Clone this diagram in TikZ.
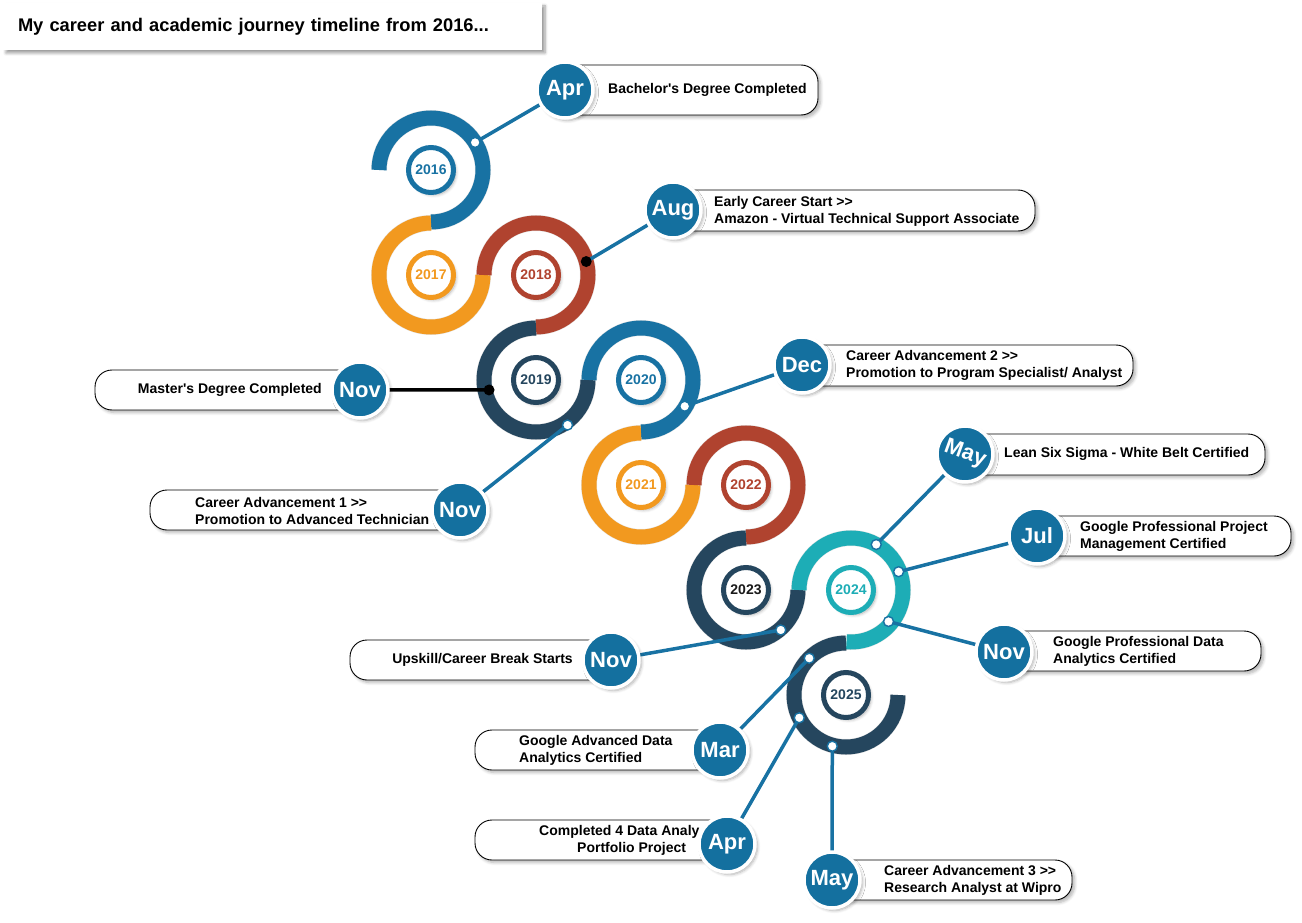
\documentclass[tikz,border=0pt]{standalone}
\usepackage{fontspec}
\setmainfont{Liberation Sans}
\usetikzlibrary{shadows.blur}

\definecolor{ringblue}{HTML}{1872A3}
\definecolor{monthblue}{HTML}{14709F}
\definecolor{ringorange}{HTML}{F2991F}
\definecolor{ringred}{HTML}{B0432F}
\definecolor{ringnavy}{HTML}{25465E}
\definecolor{ringteal}{HTML}{1DADB6}
\definecolor{yeardark}{HTML}{1A1A1A}

% two plain "greater than" signs, kept apart from the guillemet ligature
\newcommand{\nextstep}{>{}>}
\newcommand{\apos}{\textquotesingle}

\begin{document}
\begin{tikzpicture}[x=1pt,y=-1pt,
  softshadow/.style={blur shadow={shadow xshift=2.5pt, shadow yshift=-2.5pt,
      shadow blur steps=6, shadow blur radius=3pt, shadow opacity=30}},
  ring/.style={line width=15pt},
  ringshade/.style={line width=16pt, draw=black, opacity=0.10},
  yearbadge/.style={circle, draw=#1, line width=5pt, fill=white,
      minimum size=45pt, inner sep=0pt, text=#1,
      font=\fontsize{14}{14}\selectfont\bfseries, softshadow},
  month/.style={circle, fill=monthblue, draw=white, line width=3.5pt,
      minimum size=56pt, inner sep=0pt, text=white,
      font=\fontsize{22}{22}\selectfont\bfseries, softshadow},
  evbox/.style={draw=black, line width=0.9pt, fill=white,
      rounded corners=17pt, inner sep=0pt, softshadow},
  evtext/.style={font=\fontsize{14}{17}\selectfont\bfseries, align=left,
      inner sep=0pt, anchor=west},
  link/.style={draw=ringblue, line width=3.5pt},
  holdot/.style={circle, fill=white, draw=ringblue, line width=1.4pt,
      minimum size=10pt, inner sep=0pt},
  blackdot/.style={circle, fill=black, minimum size=11pt, inner sep=0pt},
  titlebox/.style={rectangle, fill=white, minimum height=47pt,
      text width=509pt, inner xsep=15pt, align=left,
      font=\fontsize{18.3}{18.3}\selectfont\bfseries,
      blur shadow={shadow xshift=3pt, shadow yshift=-3pt,
      shadow blur steps=6, shadow blur radius=3pt, shadow opacity=40}},
]
\useasboundingbox (0,0) rectangle (1302,923);

% ring centres of the winding year path
\coordinate (C16) at (431,170);
\coordinate (C17) at (431,275);
\coordinate (C18) at (536,275);
\coordinate (C19) at (536,380);
\coordinate (C20) at (641,380);
\coordinate (C21) at (641,485);
\coordinate (C22) at (746,485);
\coordinate (C23) at (746,590);
\coordinate (C24) at (851,590);
\coordinate (C25) at (846,695);

% title
\node[titlebox] (title) at (272.5,26.5) {My career and academic journey timeline from 2016...};

% the S-shaped ring path, one arc per year: soft shade first, then colour
\def\yeararcs{C16/180/450/ringblue, C17/270/0/ringorange, C18/180/450/ringred,
  C19/270/0/ringnavy, C20/180/450/ringblue, C21/270/0/ringorange,
  C22/180/450/ringred, C23/270/0/ringnavy, C24/180/455/ringteal,
  C25/270/0/ringnavy}
\begin{scope}[shift={(2,3)}]
  \foreach \c/\a/\b/\col in \yeararcs
    \draw[ringshade] (\c) ++(\a:52) arc[start angle=\a, end angle=\b, radius=52];
\end{scope}
\foreach \c/\a/\b/\col in \yeararcs
  \draw[ring, \col] (\c) ++(\a:52) arc[start angle=\a, end angle=\b, radius=52];

% year badges
\node[yearbadge=ringblue]   (y16) at (C16) {2016};
\node[yearbadge=ringorange] (y17) at (C17) {2017};
\node[yearbadge=ringred]    (y18) at (C18) {2018};
\node[yearbadge=ringnavy]   (y19) at (C19) {2019};
\node[yearbadge=ringblue]   (y20) at (C20) {2020};
\node[yearbadge=ringorange] (y21) at (C21) {2021};
\node[yearbadge=ringred]    (y22) at (C22) {2022};
\node[yearbadge=ringnavy, text=yeardark] (y23) at (C23) {2023};
\node[yearbadge=ringteal]   (y24) at (C24) {2024};
\node[yearbadge=ringnavy]   (y25) at (C25) {2025};

% event label boxes
\node[evbox, minimum width=258pt, minimum height=50pt] (bA)    at (689,90)     {};
\node[evbox, minimum width=365pt, minimum height=41pt] (bAug)  at (852.5,210.5) {};
\node[evbox, minimum width=265pt, minimum height=40pt] (bMs)   at (227.5,390)  {};
\node[evbox, minimum width=305pt, minimum height=40pt] (bCa)   at (302.5,510)  {};
\node[evbox, minimum width=333pt, minimum height=41pt] (bDec)  at (966.5,365.5) {};
\node[evbox, minimum width=300pt, minimum height=41pt] (bLean) at (1115,454.5) {};
\node[evbox, minimum width=254pt, minimum height=40pt] (bJul)  at (1164,536)   {};
\node[evbox, minimum width=257pt, minimum height=40pt] (bDa)   at (1132.5,651) {};
\node[evbox, minimum width=261pt, minimum height=40pt] (bUp)   at (480.5,660)  {};
\node[evbox, minimum width=245pt, minimum height=40pt] (bMar)  at (597.5,750)  {};
\node[evbox, minimum width=252pt, minimum height=40pt] (bPf)   at (601,840)    {};
\node[evbox, minimum width=240pt, minimum height=40pt] (bWip)  at (952,880)    {};

% where each event attaches to its ring
\coordinate (qA)    at ([shift={(-32:52)}]C16);
\coordinate (qAug)  at ([shift={(-15:52)}]C18);
\coordinate (qMs)   at ([shift={(168:48)}]C19);
\coordinate (qCa)   at ([shift={(55:55)}]C19);
\coordinate (qDec)  at ([shift={(31:51)}]C20);
\coordinate (qLean) at ([shift={(-61:52)}]C24);
\coordinate (qJul)  at ([shift={(-21:51)}]C24);
\coordinate (qDa)   at ([shift={(40:49)}]C24);
\coordinate (qUp)   at ([shift={(49:53)}]C23);
\coordinate (qMar)  at ([shift={(225:52)}]C25);
\coordinate (qPf)   at ([shift={(154:52)}]C25);
\coordinate (qWip)  at ([shift={(105:53)}]C25);

% month marker centres
\coordinate (pA)    at (565,90);
\coordinate (pAug)  at (673,210);
\coordinate (pMs)   at (360,390);
\coordinate (pCa)   at (460,510);
\coordinate (pDec)  at (802,365);
\coordinate (pLean) at (965,454);
\coordinate (pJul)  at (1037,536);
\coordinate (pDa)   at (1004,652);
\coordinate (pUp)   at (611,660);
\coordinate (pMar)  at (720,750);
\coordinate (pPf)   at (727,844);
\coordinate (pWip)  at (832,880);

% connectors (dots and markers cover their ends)
\draw[link] (qA)    -- (pA);
\draw[link] (qAug)  -- (pAug);
\draw[link, draw=black] (qMs) -- (pMs);
\draw[link] (qCa)   -- (pCa);
\draw[link] (qDec)  -- (pDec);
\draw[link] (qLean) -- (pLean);
\draw[link] (qJul)  -- (pJul);
\draw[link] (qDa)   -- (pDa);
\draw[link] (qUp)   -- (pUp);
\draw[link] (qMar)  -- (pMar);
\draw[link] (qPf)   -- (pPf);
\draw[link] (qWip)  -- (pWip);

% ring dots
\node[holdot]   (dA)    at (qA)    {};
\node[blackdot] (dAug)  at (qAug)  {};
\node[blackdot] (dMs)   at (qMs)   {};
\node[holdot]   (dCa)   at (qCa)   {};
\node[holdot]   (dDec)  at (qDec)  {};
\node[holdot]   (dLean) at (qLean) {};
\node[holdot]   (dJul)  at (qJul)  {};
\node[holdot]   (dDa)   at (qDa)   {};
\node[holdot]   (dUp)   at (qUp)   {};
\node[holdot]   (dMar)  at (qMar)  {};
\node[holdot]   (dPf)   at (qPf)   {};
\node[holdot]   (dWip)  at (qWip)  {};

% event texts
\node[evtext] (tA)    at (608,90)   {Bachelor\apos s Degree Completed};
\node[evtext] (tAug)  at (714,211)  {Early Career Start \nextstep\\Amazon - Virtual Technical Support Associate};
\node[evtext, anchor=east] (tMs) at (322,390) {Master\apos s Degree Completed};
\node[evtext] (tCa)   at (195,511)  {Career Advancement 1 \nextstep\\Promotion to Advanced Technician};
\node[evtext] (tDec)  at (846,365)  {Career Advancement 2 \nextstep\\Promotion to Program Specialist/ Analyst};
\node[evtext] (tLean) at (1004,454) {Lean Six Sigma - White Belt Certified};
\node[evtext] (tJul)  at (1080,536) {Google Professional Project\\Management Certified};
\node[evtext] (tDa)   at (1053,651) {Google Professional Data\\Analytics Certified};
\node[evtext, anchor=east] (tUp) at (573,660) {Upskill/Career Break Starts};
\node[evtext] (tMar)  at (519,750)  {Google Advanced Data\\Analytics Certified};
\node[evtext] (tPf)   at (539,840)  {Completed 4 Data Analy\\\hspace*{38pt}Portfolio Project};
\node[evtext] (tWip)  at (884,880)  {Career Advancement 3 \nextstep\\Research Analyst at Wipro};

% month markers on top
\node[month] (mA)    at (pA)    {Apr};
\node[month] (mAug)  at (pAug)  {Aug};
\node[month] (mMs)   at (pMs)   {Nov};
\node[month] (mCa)   at (pCa)   {Nov};
\node[month] (mDec)  at (pDec)  {Dec};
\node[month, rotate=-20] (mLean) at (pLean) {May};
\node[month] (mJul)  at (pJul)  {Jul};
\node[month] (mDa)   at (pDa)   {Nov};
\node[month] (mUp)   at (pUp)   {Nov};
\node[month] (mMar)  at (pMar)  {Mar};
\node[month] (mPf)   at (pPf)   {Apr};
\node[month] (mWip)  at (pWip)  {May};
\end{tikzpicture}
\end{document}
